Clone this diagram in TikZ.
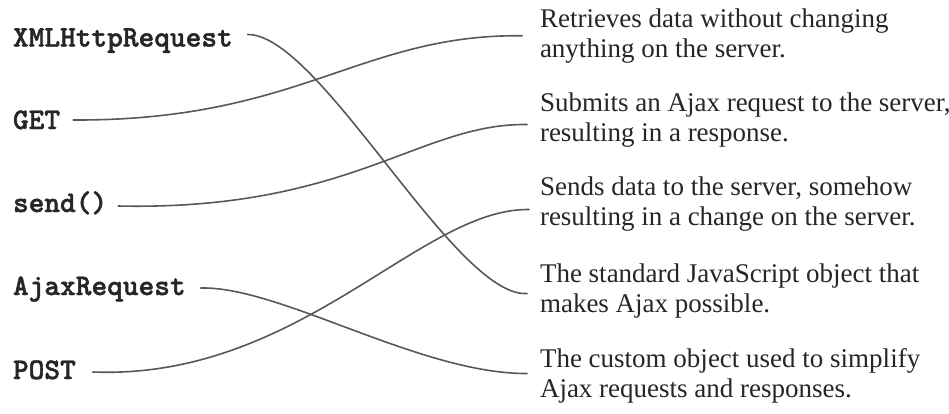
\documentclass[tikz,border=0pt]{standalone}
\usepackage{fontspec}
\setmainfont{Liberation Serif}
\newfontfamily\codefont{lmmonolt10-bold.otf}[FakeBold=1.5]
\usetikzlibrary{calc}
\definecolor{txt}{HTML}{262626}
\definecolor{wire}{HTML}{585858}
\begin{document}
\begin{tikzpicture}[x=1pt,y=-1pt,
  term/.style={anchor=base west,inner sep=0pt,outer sep=0pt,text=txt,font=\codefont\fontsize{29.9}{32}\selectfont},
  desc/.style={anchor=west,align=left,inner xsep=13pt,inner ysep=0pt,outer sep=0pt,text=txt,font=\fontsize{27}{30}\selectfont},
  wirestyle/.style={draw=wire,line width=1.6pt,line cap=round}]
\useasboundingbox (0,0) rectangle (949,413);
% left terms
\node[term] (xml)  at (13,46.5) {XMLHttpRequest};
\node[term] (get)  at (13,129) {GET};
\node[term] (send) at (13,212) {send()};
\node[term] (ajax) at (13,295) {AjaxRequest};
\node[term] (post) at (13,379) {POST};
% right descriptions
\node[desc] (ret)   at (527,35.75) {Retrieves data without changing\\anything on the server.};
\node[desc] (sub)   at (527,120.5) {Submits an Ajax request to the server,\\resulting in a response.};
\node[desc] (sends) at (527,204.5) {Sends data to the server, somehow\\resulting in a change on the server.};
\node[desc] (std)   at (527,290.5) {The standard JavaScript object that\\makes Ajax possible.};
\node[desc] (cus)   at (527,375.5) {The custom object used to simplify\\Ajax requests and responses.};
% connectors
\draw[wirestyle] ($(xml.base east)+(15,-12)$) .. controls (320,34) and (455,298) .. ($(std.west)+(0,3)$);
\draw[wirestyle] ($(get.base east)+(13,-9)$) .. controls (300,121) and (360,34) .. ($(ret.west)+(-5,0)$);
\draw[wirestyle] ($(send.base east)+(11,-6)$) .. controls (350,211) and (420,123) .. ($(sub.west)+(0,4)$);
\draw[wirestyle] ($(ajax.base east)+(15,-7)$) .. controls (280,286) and (420,374) .. ($(cus.west)+(0,-2)$);
\draw[wirestyle] ($(post.base east)+(17,-7)$) .. controls (300,380) and (420,208) .. ($(sends.west)+(2,5)$);
\end{tikzpicture}
\end{document}
